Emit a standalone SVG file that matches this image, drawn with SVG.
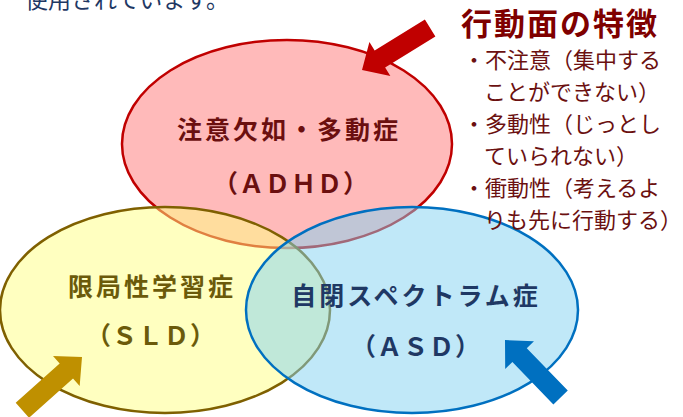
<svg xmlns="http://www.w3.org/2000/svg" width="683" height="417" viewBox="0 0 683 417">
<style>
text{font-family:"Noto Sans CJK JP","Noto Sans",sans-serif}
.lbl{font-weight:bold;font-size:25px;text-anchor:middle;letter-spacing:3px}
.abbr{font-weight:bold;font-size:25px;text-anchor:middle;letter-spacing:1px}
.ell{stroke-width:2.5}
.item{font-size:22px;fill:#6b1010}
</style>
<defs>
<path id="arrow" d="M0,0 L-21,-20 L-21,-10 L-80,-10 L-80,10 L-21,10 L-21,20 Z"/>
</defs>
<text x="25" y="8" font-size="23" fill="#1f3864">使用されています。</text>
<g id="adhd">
<ellipse class="ell" cx="287" cy="144" rx="165" ry="104" fill="#ff7575" fill-opacity="0.5" stroke="#c00000"/>
<text class="lbl" x="289" y="139" fill="#6b0f0f">注意欠如・多動症</text>
<text class="abbr" x="291" y="193" fill="#6b0f0f">（ＡＤＨＤ）</text>
</g>
<g id="sld">
<ellipse class="ell" cx="165" cy="310" rx="165" ry="103" fill="#ffff81" fill-opacity="0.5" stroke="#7f6000"/>
<text class="lbl" x="152" y="296" fill="#6b5a0a">限局性学習症</text>
<text class="abbr" x="151" y="345" fill="#6b5a0a">（ＳＬＤ）</text>
</g>
<g id="asd">
<ellipse class="ell" cx="412" cy="310" rx="166" ry="103" fill="#81d1f1" fill-opacity="0.5" stroke="#0070c0"/>
<text class="lbl" x="416" y="305" fill="#1f3864" letter-spacing="1">自閉スペクトラム症</text>
<text class="abbr" x="416" y="356" fill="#1f3864">（ＡＳＤ）</text>
</g>
<g id="features">
<text x="461" y="35" font-size="31" font-weight="bold" fill="#7f0000" letter-spacing="2">行動面の特徴</text>
<text class="item" x="463" y="68">・不注意（集中する</text>
<text class="item" x="484" y="100">ことができない）</text>
<text class="item" x="463" y="132">・多動性（じっとし</text>
<text class="item" x="484" y="164">ていられない）</text>
<text class="item" x="463" y="196">・衝動性（考えるよ</text>
<text class="item" x="484" y="228">りも先に行動する）</text>
</g>
<g id="connectors">
<use href="#arrow" transform="translate(362,70) rotate(148.4)" fill="#c00000"/>
<use href="#arrow" transform="translate(82,357) rotate(-41.8)" fill="#bf9000"/>
<use href="#arrow" transform="translate(505,340) rotate(-134)" fill="#0070c0"/>
</g>
</svg>
